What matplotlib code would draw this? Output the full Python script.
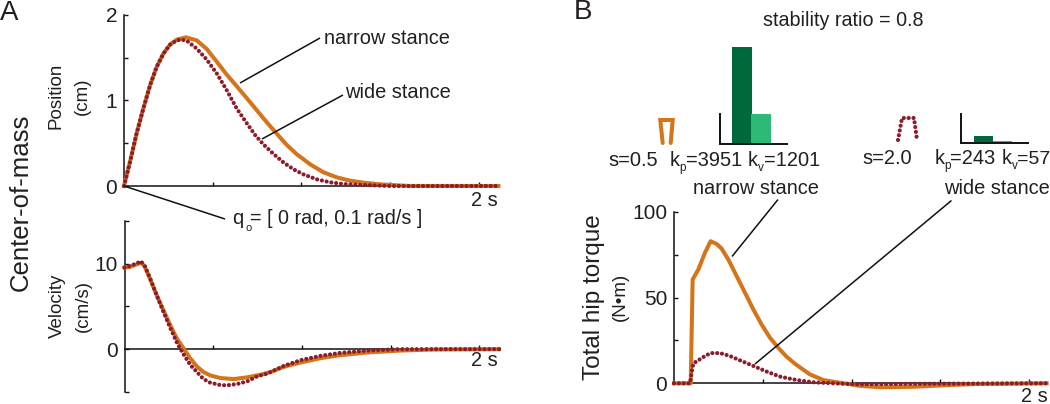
import matplotlib
matplotlib.use("Agg")
import matplotlib.pyplot as plt

plt.rcParams['font.family'] = ['Liberation Sans', 'DejaVu Sans']

W, H = 1050, 404
ORANGE = '#D4751B'
RED = '#8A1C2C'
DARK = '#00693C'
LIGHT = '#2FB978'
TXT = '#231F20'

# Position (cm)
pos_t_n = [0, .034, .071, .109, .147, .184, .222, .259, .297, .348, .410, .466, .523, .579, .635, .692, .748,
           .804, .861, .917, .974, 1.049, 1.124, 1.199, 1.274, 1.350, 1.444, 1.538, 1.613, 2.11]
pos_n = [0, .283, .614, .905, 1.177, 1.390, 1.546, 1.650, 1.709, 1.736, 1.70, 1.60, 1.45, 1.30, 1.165, 1.025, .885,
         .745, .61, .48, .37, .253, .160, .101, .062, .039, .019, .008, 0, 0]
pos_t_w = [0, .034, .071, .109, .147, .184, .222, .259, .297, .321, .353, .410, .466, .523, .579, .635, .692, .739,
           .786, .842, .898, .955, 1.011, 1.086, 1.162, 1.237, 1.350, 1.5, 2.11]
pos_w = [0, .283, .614, .905, 1.177, 1.390, 1.546, 1.650, 1.70, 1.709, 1.697, 1.604, 1.476, 1.313, 1.118, .905, .732, .595,
         .485, .375, .276, .195, .136, .078, .043, .023, .012, 0, 0]

# Velocity (cm/s)
vel_t_n = [0, .03, .068, .096, .115, .143, .181, .219, .257, .294, .332, .370, .408, .445, .483, .540, .615, .691,
           .766, .823, .898, .992, 1.104, 1.217, 1.367, 1.555, 1.743, 2.11]
vel_n = [9.53, 9.6, 9.9, 10.1, 9.6, 8.26, 6.32, 4.57, 2.83, 1.28, .12, -1.05, -2.02, -2.67, -3.06, -3.37, -3.49, -3.29,
         -2.98, -2.67, -2.06, -1.56, -1.05, -.70, -.39, -.16, -.04, 0]
vel_t_w = [0, .03, .068, .092, .115, .143, .181, .219, .257, .294, .332, .370, .408, .445, .483, .540, .577, .634,
           .691, .747, .804, .898, .992, 1.104, 1.217, 1.367, 1.555, 2.11]
vel_w = [9.53, 9.73, 10.0, 10.27, 9.69, 8.33, 6.32, 4.38, 2.52, .81, -.58, -1.82, -2.67, -3.49, -3.91, -4.19, -4.22, -4.07,
         -3.76, -3.18, -2.85, -1.95, -1.28, -.78, -.43, -.16, 0, 0]

# Torque (N.m)
tq_t_n = [0, .094, .105, .137, .174, .206, .240, .268, .306, .353, .400, .447, .493, .540, .587, .634, .681,
          .765, .841, .916, .972, 1.046, 1.159, 1.328, 1.515, 1.703, 2.098]
tq_n = [0, 0, 60.5, 66.3, 76, 82.8, 81.2, 78.5, 72.1, 62.4, 52.7, 43, 34.3, 26.6, 20.7, 15.5, 11.4,
        5.2, 1.9, .6, -.2, -1.5, -2.3, -2.1, -1.2, -.4, 0]
tq_t_w = [0, .09, .101, .109, .146, .174, .206, .259, .315, .371, .447, .522, .597, .690, .784, .897, 1.028, 1.3, 2.098]
tq_w = [0, 0, 7.2, 11.6, 14, 15.9, 17.6, 17.6, 15.9, 13.4, 10.1, 6.8, 3.9, 1.9, .6, 0, -.6, -.3, 0]

# Gains
gains_narrow = [3951, 1201]
gains_wide = [243, 57]

DOTS = (0, (0.01, 1.15))


def axes_px(x0, x1, ytop, ybot):
    return fig.add_axes([x0 / W, 1 - ybot / H, (x1 - x0) / W, (ybot - ytop) / H])


def style(ax, xlim, ylim, yticks, ylabels, xticks):
    ax.set_xlim(xlim)
    ax.set_ylim(ylim)
    ax.patch.set_alpha(0)
    for s in ('top', 'right'):
        ax.spines[s].set_visible(False)
    ax.spines['bottom'].set_position(('data', 0))
    for s in ('left', 'bottom'):
        ax.spines[s].set_linewidth(1.1)
        ax.spines[s].set_color('#111111')
    ax.set_yticks(yticks, ylabels, fontsize=15, color=TXT)
    ax.set_xticks(xticks, [''] * len(xticks))
    ax.tick_params(axis='both', direction='in', length=3.2, width=1.0, pad=5, color='#111111')


def curves(ax, tn, yn, tw, yw):
    ax.plot(tn, yn, color=ORANGE, lw=2.9, clip_on=False, solid_joinstyle='round', zorder=3)
    ax.plot(tw, yw, color=RED, lw=3.0, ls=DOTS, dash_capstyle='round', clip_on=False, zorder=4)


fig = plt.figure(figsize=(W / 100, H / 100), dpi=100)

# Panel A position
a1 = axes_px(124, 499, 14.7, 186)
style(a1, (0, 2.113), (0, 2), [0, .5, 1, 1.5, 2], ['0', '', '1', '', '2'], [.5, 1, 1.5, 2])
curves(a1, pos_t_n, pos_n, pos_t_w, pos_w)

# Panel A velocity
a2 = axes_px(124.5, 499, 220.7, 392)
style(a2, (0, 2.11), (-5, 15), [-5, 0, 5, 10, 15], ['', '0', '', '10', ''], [.5, 1, 1.5, 2])
curves(a2, vel_t_n, vel_n, vel_t_w, vel_w)

# Panel B torque
a3 = axes_px(674, 1047, 211.7, 383.3)
style(a3, (0, 2.1), (0, 100), [0, 25, 50, 75, 100], ['0', '', '50', '', '100'], [.5, 1, 1.5, 2])
curves(a3, tq_t_n, tq_n, tq_t_w, tq_w)


def bars(x0, x1, ytop, ybot, barl, vals):
    ax = axes_px(x0, x1, ytop, ybot)
    ax.set_xlim(x0, x1)
    ax.set_ylim(0, (ybot - ytop) / 96 * 3951)
    ax.patch.set_alpha(0)
    bw = 19.2
    ax.bar([barl + bw / 2, barl + 1.5 * bw], vals, width=bw, color=[DARK, LIGHT], clip_on=False)
    for s in ('top', 'right'):
        ax.spines[s].set_visible(False)
    ax.spines['left'].set_linewidth(1.4)
    ax.spines['bottom'].set_linewidth(1.4)
    ax.spines['left'].set_color('#111111')
    ax.spines['bottom'].set_color('#111111')
    ax.spines['bottom'].set_position(('outward', 0.8))
    ax.set_xticks([])
    ax.set_yticks([])


bars(719.7, 786.7, 114, 143, 732.3, gains_narrow)
bars(961, 1027.7, 114, 142.3, 974, gains_wide)

# Overlay in pixel coordinates
ov = fig.add_axes([0, 0, 1, 1], zorder=10)
ov.set_xlim(0, W)
ov.set_ylim(H, 0)
ov.axis('off')


def t(x, y, s, size=14.4, ha='center', va='center', **kw):
    ov.text(x, y, s, fontsize=size, ha=ha, va=va, color=TXT, **kw)


def seg(x0, y0, x1, y1):
    ov.plot([x0, x1], [y0, y1], color='#111111', lw=1.1, solid_capstyle='butt')


t(9.5, 13, 'A', 20)
t(583, 12, 'B', 20)
t(21, 202, 'Center-of-mass', 18.5, rotation=90)
t(56, 96, 'Position', 13.5, rotation=90)
t(82, 96, '(cm)', 13.5, rotation=90)
t(57, 306, 'Velocity', 13.5, rotation=90)
t(83, 306, '(cm/s)', 13.5, rotation=90)
t(594, 297, 'Total hip torque', 17.5, rotation=90)
t(620, 297, '(N•m)', 13.5, rotation=90)

t(387, 39, 'narrow stance')
t(397.5, 93, 'wide stance')
t(484, 200, '2 s')
t(484, 361, '2 s')
t(1034, 396, '2 s')
t(232, 219, 'q', ha='left')
t(245, 228, 'o', 8, ha='left')
t(250, 219, '= [ 0 rad, 0.1 rad/s ]', 14.2, ha='left')
t(843, 20, 'stability ratio = 0.8', 14.2)
t(633.5, 161, 's=0.5')
t(887.5, 159, 's=2.0')

t(670, 161, 'k', ha='left')
t(679, 168, 'p', 8.5, ha='left')
t(686, 161, '=3951', ha='left')
t(748, 161, 'k', ha='left')
t(758, 168, 'v', 8.5, ha='left')
t(764, 161, '=1201', ha='left')
t(935, 159, 'k', ha='left')
t(944, 166, 'p', 8.5, ha='left')
t(950, 159, '=243', ha='left')
t(1002, 159, 'k', ha='left')
t(1012, 166, 'v', 8.5, ha='left')
t(1017, 159, '=57', 14, ha='left')
t(756, 189, 'narrow stance')
t(997, 189, 'wide stance')

seg(240, 83, 320, 38)
seg(262, 139, 343, 95)
seg(124, 186, 225, 219)
seg(732, 256.5, 778, 199.5)
seg(755, 364, 951.5, 200.5)

# Stance glyphs
ov.plot([662.7, 660.3, 672.7, 670.7], [143, 120, 120, 143], color=ORANGE, lw=2.9, solid_joinstyle='miter', solid_capstyle='round')
ov.plot([898, 902, 914, 917], [140, 118, 118, 140], color=RED, lw=3.0, ls=DOTS, dash_capstyle='round')

fig.savefig('out.png', dpi=100)
